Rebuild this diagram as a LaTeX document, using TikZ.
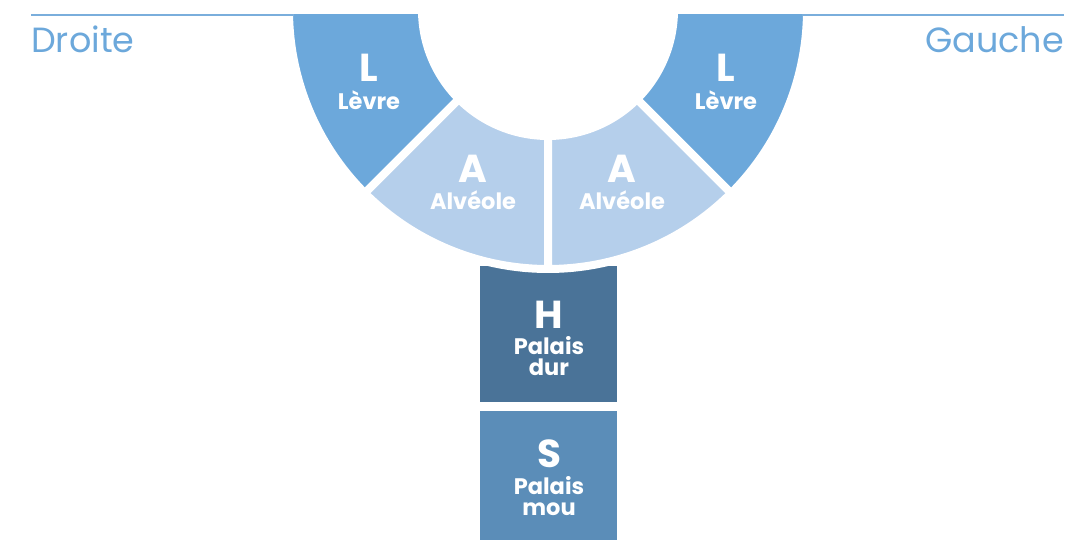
\documentclass[tikz,border=0pt]{standalone}
\usepackage{fontspec}
\setmainfont{Poppins}
\usepackage{tikz}
\definecolor{levrecol}{HTML}{6CA8DB}
\definecolor{alveolecol}{HTML}{B5CFEB}
\definecolor{durcol}{HTML}{4A7398}
\definecolor{moucol}{HTML}{5B8DB8}
\definecolor{sidecol}{HTML}{7AAEDC}
\tikzstyle{every node}=[inner sep=0pt, text=white]
\tikzstyle{sector}=[draw=white, line width=8pt, line join=round]
\tikzstyle{letter}=[font=\bfseries\fontsize{39}{39}\selectfont, anchor=base]
\tikzstyle{word}=[font=\bfseries\fontsize{22.5}{21}\selectfont, anchor=base, align=center]
\tikzstyle{side}=[font=\fontsize{35}{35}\selectfont, text=levrecol]

\begin{document}
\begin{tikzpicture}[x=1pt, y=1pt]
                \useasboundingbox (0, 0) rectangle (1088, 540);
                \coordinate (c) at (548, 530);
                \begin{scope}
                    \clip (0, 0) rectangle (1088, 525);
                    % palais
                    \fill [durcol] (480, 138) rectangle (617, 274);
                    \fill [moucol] (480, -10) rectangle (617, 129);
                    % levres et alveoles
                    \filldraw [sector, fill=levrecol] ([shift={(170:126)}]c) -- ([shift={(170:259)}]c) arc [start angle=170, end angle=225, radius=259] -- ([shift={(225:126)}]c) arc [start angle=225, end angle=170, radius=126] -- cycle;
                    \filldraw [sector, fill=alveolecol] ([shift={(225:126)}]c) -- ([shift={(225:259)}]c) arc [start angle=225, end angle=270, radius=259] -- ([shift={(270:126)}]c) arc [start angle=270, end angle=225, radius=126] -- cycle;
                    \filldraw [sector, fill=alveolecol] ([shift={(270:126)}]c) -- ([shift={(270:259)}]c) arc [start angle=270, end angle=315, radius=259] -- ([shift={(315:126)}]c) arc [start angle=315, end angle=270, radius=126] -- cycle;
                    \filldraw [sector, fill=levrecol] ([shift={(315:126)}]c) -- ([shift={(315:259)}]c) arc [start angle=315, end angle=370, radius=259] -- ([shift={(370:126)}]c) arc [start angle=370, end angle=315, radius=126] -- cycle;
                \end{scope}
                \draw [sidecol, line width=1.3pt] (31, 525) -- (293, 525);
                \draw [sidecol, line width=1.3pt] (802, 525) -- (1064, 525);
                \node [side, anchor=base west] (droite) at (31, 487) {Droite};
                \node [side, anchor=base east] (gauche) at (1064, 487) {Gauche};
                \node [letter] (levreD) at (369, 458) {L};
                \node [word] (levreDtxt) at (369, 430) {Lèvre};
                \node [letter] (levreG) at (726, 458) {L};
                \node [word] (levreGtxt) at (726, 430) {Lèvre};
                \node [letter] (alveoleD) at (473, 357) {A};
                \node [word] (alveoleDtxt) at (473, 330) {Alvéole};
                \node [letter] (alveoleG) at (622, 357) {A};
                \node [word] (alveoleGtxt) at (622, 330) {Alvéole};
                \node [letter] (dur) at (549, 211) {H};
                \node [word, anchor=center] (durtxt) at (549, 184) {Palais\\dur};
                \node [letter] (mou) at (549, 72) {S};
                \node [word, anchor=center] (moutxt) at (549, 44) {Palais\\mou};
            \end{tikzpicture}
\end{document}
